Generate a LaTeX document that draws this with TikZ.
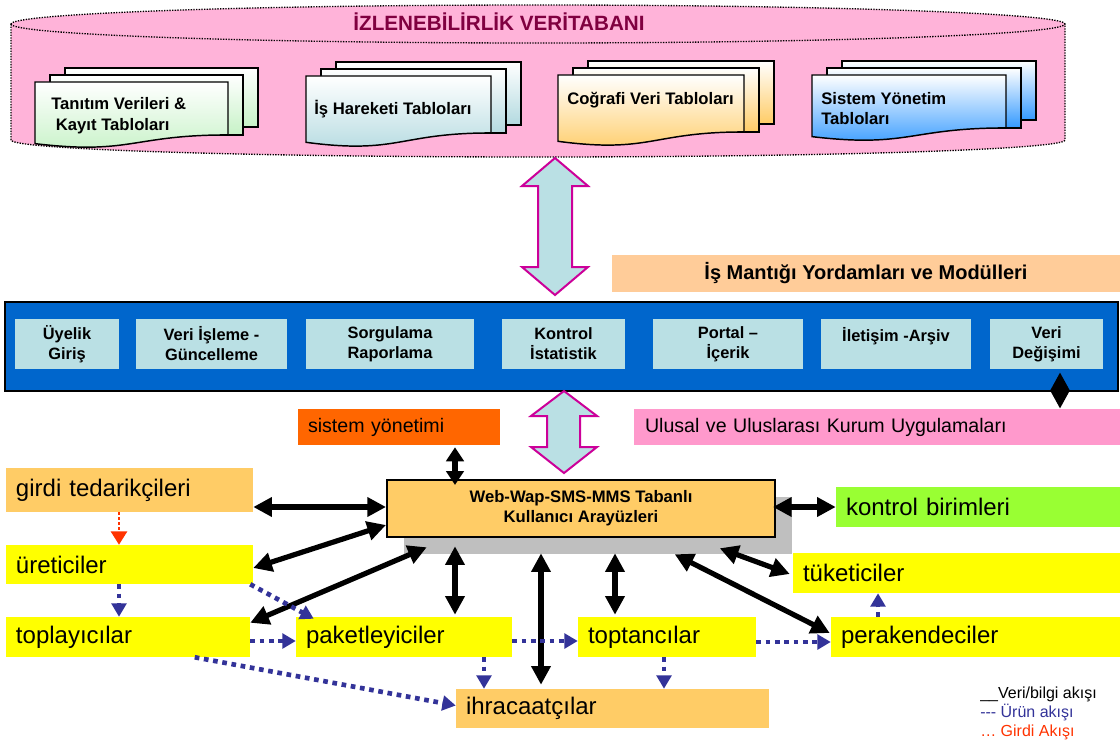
\documentclass[tikz,border=0pt]{standalone}
\usepackage{fontspec}
\setmainfont{Liberation Sans}
\usetikzlibrary{arrows.meta,calc}
\definecolor{dbpink}{HTML}{FFB3D9}
\definecolor{modcol}{HTML}{BAE0E4}
\definecolor{barblue}{HTML}{0066CC}
\definecolor{magb}{HTML}{CC0099}
\definecolor{orangey}{HTML}{FFCC66}
\definecolor{peach}{HTML}{FFCC99}
\definecolor{titlecol}{HTML}{800040}
\definecolor{sysorange}{HTML}{FF6600}
\definecolor{ulpink}{HTML}{FF99CC}
\definecolor{kgreen}{HTML}{99FF33}
\definecolor{ylw}{HTML}{FFFF00}
\definecolor{flowblue}{HTML}{333399}
\definecolor{flowred}{HTML}{FF3300}
\definecolor{shadowgray}{HTML}{BFBFBF}
\definecolor{sgreen}{HTML}{C6F2C6}
\definecolor{sblue}{HTML}{B3DAE0}
\definecolor{sorange}{HTML}{FFCC66}
\definecolor{sdeep}{HTML}{3399FF}
\newcommand{\docstack}[5]{%
 \path[draw=black,line width=1.1pt,top color=white,bottom color=#5] (#1+30,#2-14) rectangle (#1+#3+30,#2+0.802*#4-8);
 \path[draw=black,line width=1.1pt,top color=white,bottom color=#5] (#1+15,#2-7) rectangle (#1+#3+15,#2+0.802*#4);
 \path[draw=black,line width=1.1pt,top color=white,bottom color=#5] (#1,#2) -- (#1+#3,#2) -- (#1+#3,#2+0.802*#4) .. controls (#1+0.5*#3,#2+0.802*#4) and (#1+0.5*#3,#2+1.1075*#4) .. (#1,#2+0.934*#4) -- cycle;
}
\tikzset{
 sheettxt/.style={anchor=west, inner sep=0pt, align=left, font=\bfseries\fontsize{12.5}{15.5}\selectfont},
 modbox/.style={fill=modcol, inner sep=0pt, minimum height=37.5pt, align=center, font=\bfseries\fontsize{12.3}{15}\selectfont},
 lbox/.style={rectangle, inner sep=0pt, inner xsep=7.5pt, align=left, font=\fontsize{18}{21}\selectfont},
 sbox/.style={rectangle, inner sep=0pt, inner xsep=7.5pt, align=left, font=\fontsize{14.7}{18}\selectfont, minimum height=27pt},
 bi/.style={line width=3.9pt, {Triangle[length=14pt,width=14pt]}-{Triangle[length=14pt,width=14pt]}},
 bishort/.style={line width=3.9pt, {Triangle[length=10.5pt,width=13pt]}-{Triangle[length=10.5pt,width=13pt]}},
 uflow/.style={flowblue, line width=3.5pt, dash pattern=on 3.5pt off 3.5pt, -{Triangle[length=10pt,width=11pt]}},
 gflow/.style={flowred, line width=1.9pt, dash pattern=on 1.9pt off 1.9pt, -{Triangle[length=10pt,width=12pt]}},
 blockarrow/.style={draw=magb, line width=1.5pt, fill=modcol, line join=miter},
 legtxt/.style={anchor=west, inner sep=0pt, font=\fontsize{12}{14}\selectfont},
}
\begin{document}
\begin{tikzpicture}[x=0.75pt,y=-0.75pt]
\useasboundingbox (0,0) rectangle (1120,742);
\fill[white] (0,0) rectangle (1120,742);
% database cylinder
\path[fill=dbpink] (11,24) -- (11,140) arc[start angle=180,end angle=0,x radius=527,y radius=17] -- (1065,24) arc[start angle=0,end angle=-180,x radius=527,y radius=19] -- cycle;
\draw[line width=1pt, dash pattern=on 1pt off 1pt] (11,24) -- (11,140) arc[start angle=180,end angle=0,x radius=527,y radius=17] -- (1065,24) arc[start angle=0,end angle=-180,x radius=527,y radius=19];
\draw[line width=1pt, dash pattern=on 1pt off 1pt] (11,24) arc[start angle=180,end angle=0,x radius=527,y radius=19];
\node[font=\bfseries\fontsize{15.5}{18}\selectfont, text=titlecol, inner sep=0pt] (title) at (499,22) {İZLENEBİLİRLİK VERİTABANI};
% table stacks
\docstack{35}{82}{193}{66}{sgreen}
\docstack{306}{76}{185}{71}{sblue}
\docstack{558}{75}{186}{71}{sorange}
\docstack{812}{75}{194}{66}{sdeep}
\node[sheettxt] (t1) at (51,116) {Tanıtım Verileri \&\\\ Kayıt Tabloları};
\node[sheettxt] (t2) at (314,109) {İş Hareketi Tabloları};
\node[sheettxt] (t3) at (567,100) {Coğrafi Veri Tabloları};
\node[sheettxt] (t4) at (821,108.5) {Sistem Yönetim\\Tabloları};
% upper block arrow
\path[blockarrow] (555,158) -- (588,186) -- (572,186) -- (572,267) -- (588,267) -- (555,295) -- (522,267) -- (538,267) -- (538,186) -- (522,186) -- cycle;
\node[fill=peach, inner sep=0pt, minimum width=381pt, minimum height=27.75pt, font=\bfseries\fontsize{15}{18}\selectfont] (ismantik) at (866,273.5) {İş Mantığı Yordamları ve Modülleri};
% blue bar with modules
\node[draw=black, line width=1.5pt, fill=barblue, minimum width=834.75pt, minimum height=66.75pt, inner sep=0pt] (bar) at (561.5,346.5) {};
\node[modbox, minimum width=78pt] (uyelik) at (67,344) {Üyelik\\Giriş};
\node[modbox, minimum width=113.25pt] (veriisleme) at (211.5,344) {Veri İşleme -\\Güncelleme};
\node[modbox, minimum width=126pt] (sorgu) at (390,344) {Sorgulama\\Raporlama};
\node[modbox, minimum width=92.25pt] (kontrolm) at (563.5,344) {Kontrol\\İstatistik};
\node[modbox, minimum width=112.5pt] (portal) at (728,344) {Portal –\\İçerik};
\node[modbox, minimum width=112.5pt] (iletisim) at (896,344) {İletişim -Arşiv\\\mbox{}};
\node[modbox, minimum width=84.75pt] (veridegis) at (1046.5,344) {Veri\\Değişimi};
% lower block arrow
\path[blockarrow] (564,391) -- (597,416) -- (580,416) -- (580,447) -- (597,447) -- (564,473) -- (531,447) -- (547,447) -- (547,416) -- (531,416) -- cycle;
% boxes
\node[sbox, fill=sysorange, minimum width=151.5pt, text width=136.5pt] (sistem) at (399,427) {sistem yönetimi};
\node[sbox, fill=ulpink, minimum width=364.5pt, inner xsep=8.25pt, text width=348pt] (ulusal) at (877,427) {Ulusal ve Uluslarası Kurum Uygulamaları};
\node[fill=shadowgray, inner sep=0pt, minimum width=291pt, minimum height=42.75pt] (webshadow) at (598,525.5) {};
\node[draw=black, line width=1.5pt, fill=orangey, inner sep=0pt, minimum width=291pt, minimum height=42.75pt, align=center, font=\bfseries\fontsize{12.5}{15}\selectfont] (web) at (581,508.5) {Web-Wap-SMS-MMS Tabanlı\\Kullanıcı Arayüzleri};
\node[lbox, fill=orangey, text width=170.25pt, minimum height=33pt] (girdi) at (129.5,490) {girdi tedarikçileri};
\node[lbox, fill=ylw, text width=170.25pt, minimum height=29.25pt] (ureticiler) at (129.5,564.5) {üreticiler};
\node[lbox, fill=ylw, text width=168pt, minimum height=30pt] (toplayicilar) at (128,637) {toplayıcılar};
\node[lbox, fill=ylw, text width=147pt, minimum height=30pt] (paketleyiciler) at (404,637) {paketleyiciler};
\node[lbox, fill=ylw, text width=118.5pt, minimum height=30pt] (toptancilar) at (667,637) {toptancılar};
\node[lbox, fill=ylw, text width=201.75pt, minimum height=30pt] (perakendeciler) at (975.5,637) {perakendeciler};
\node[lbox, fill=ylw, text width=230.25pt, minimum height=30pt] (tuketiciler) at (956.5,573) {tüketiciler};
\node[lbox, fill=kgreen, text width=198pt, minimum height=30pt] (kontrol) at (978,507) {kontrol birimleri};
\node[lbox, fill=orangey, text width=219.75pt, minimum height=29.25pt] (ihracaat) at (612.5,708.5) {ihracaatçılar};
% helper coordinates
\coordinate (X119) at (119,0);
\coordinate (X455) at (455,0);
\coordinate (X484) at (484,0);
\coordinate (X541) at (541,0);
\coordinate (X615) at (615,0);
\coordinate (X664) at (664,0);
\coordinate (X878) at (878,0);
\coordinate (X1060) at (1060,0);
\coordinate (Y507) at (0,507);
\coordinate (Y525) at (0,525);
\coordinate (Y568) at (0,568);
\coordinate (Y641) at (0,641);
\coordinate (Y642) at (0,642);
% data flows
\draw[bishort] ($(sistem.south -| X455)+(0,2)$) -- ($(web.north -| X455)+(0,6)$);
\draw[bi] (girdi.east |- Y507) -- (web.west |- Y507);
\draw[bi] (ureticiler.east |- Y568) -- (web.west |- Y525);
\draw[bi] ($(toplayicilar.north east)+(0,6)$) -- ($(webshadow.south west)+(23,-7)$);
\draw[bi] ($(webshadow.south -| X455)+(0,-8)$) -- ($(paketleyiciler.north -| X455)+(0,-2)$);
\draw[bi] ($(webshadow.south -| X541)+(0,-1)$) -- ($(ihracaat.north -| X541)+(0,-4)$);
\draw[bi] ($(webshadow.south -| X615)+(0,-1)$) -- ($(toptancilar.north -| X615)+(0,-2)$);
\draw[bi] ($(webshadow.south west)+(271,0)$) -- ($(perakendeciler.west)+(-1,-4)$);
\draw[bi] ($(webshadow.south west)+(316,-6)$) -- ($(tuketiciler.west)+(-3,1)$);
\draw[bi] ($(web.east)+(-3,-1.5)$) -- (kontrol.west);
\draw[bi] ($(veridegis.south -| X1060)+(0,3)$) -- (ulusal.north -| X1060);
% product flows
\draw[uflow] (ureticiler.south -| X119) -- (toplayicilar.north -| X119);
\draw[uflow] ($(ureticiler.south east)+(-3,0)$) -- ($(paketleyiciler.north west)+(18,2)$);
\draw[uflow] (toplayicilar.east |- Y641) -- (paketleyiciler.west |- Y641);
\draw[uflow] ($(toplayicilar.south west)+(189,0)$) -- ($(ihracaat.west)+(0,-3)$);
\draw[uflow] (paketleyiciler.south -| X484) -- (ihracaat.north -| X484);
\draw[uflow] (paketleyiciler.east |- Y641) -- (toptancilar.west |- Y641);
\draw[uflow] (toptancilar.south -| X664) -- (ihracaat.north -| X664);
\draw[uflow] (toptancilar.east |- Y642) -- (perakendeciler.west |- Y642);
\draw[uflow] (perakendeciler.north -| X878) -- (tuketiciler.south -| X878);
% input flow
\draw[gflow] (girdi.south -| X119) -- (ureticiler.north -| X119);
% legend
\node[legtxt] (leg1) at (980,694) {\_\_Veri/bilgi akışı};
\node[legtxt, text=flowblue] (leg2) at (980,712) {-{}-{}- Ürün akışı};
\node[legtxt, text=flowred] (leg3) at (980,732) {… Girdi Akışı};
\end{tikzpicture}
\end{document}
